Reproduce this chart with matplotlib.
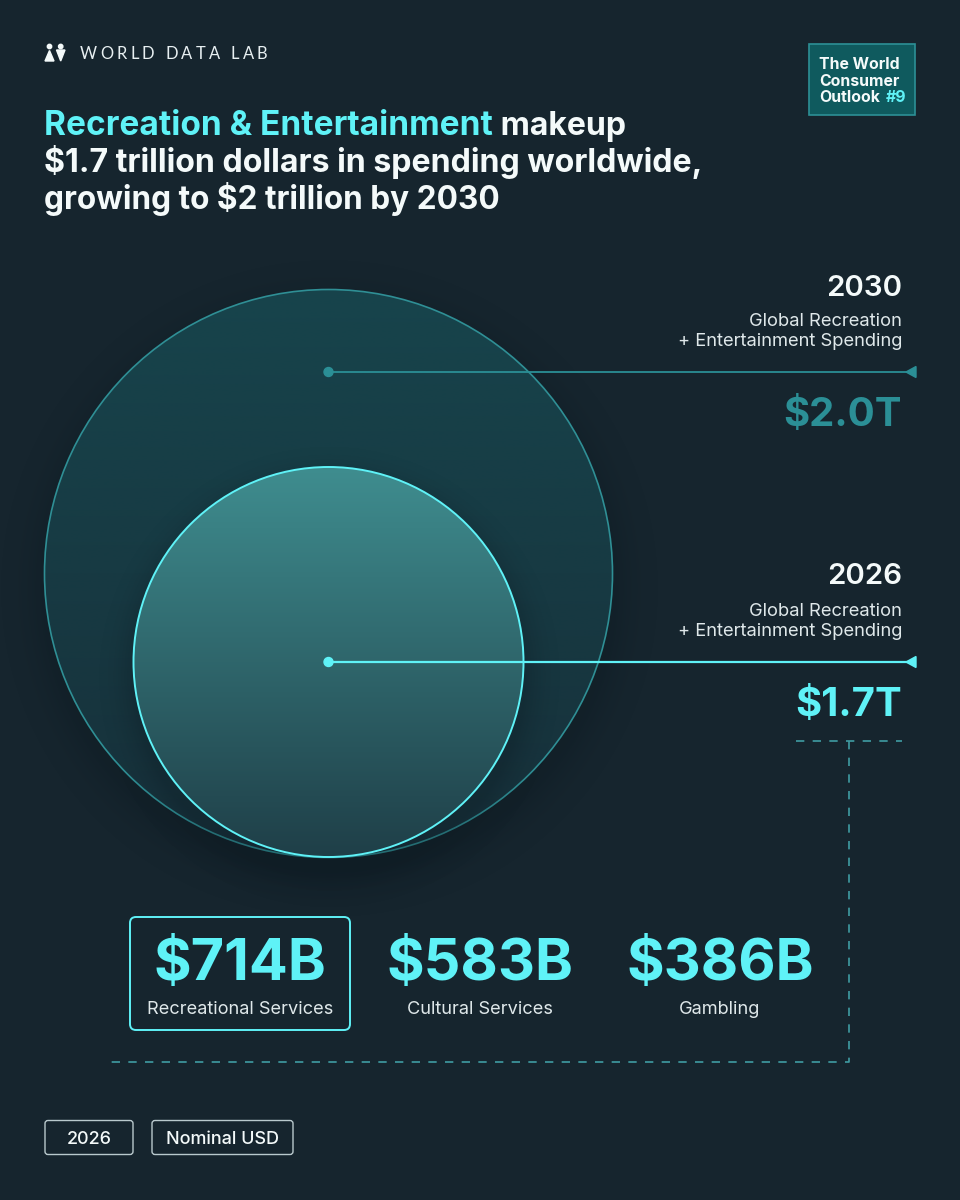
import numpy as np
import matplotlib
matplotlib.use("Agg")
import matplotlib.pyplot as plt
from matplotlib.colors import LinearSegmentedColormap
from matplotlib.patches import Circle, FancyBboxPatch, Polygon, Rectangle

# data
years = ["2030", "2026"]
totals = ["$2.0T", "$1.7T"]
spend_label = ["Global Recreation", "+ Entertainment Spending"]
segment_values = ["$714B", "$583B", "$386B"]
segment_names = ["Recreational Services", "Cultural Services", "Gambling"]
title_lines = [
    [("Recreation & Entertainment", "cyan", 33.4), (" makeup", "white", 32)],
    [("$1.7 trillion dollars in spending worldwide,", "white", 32.1)],
    [("growing to $2 trillion by 2030", "white", 31.5)],
]
footer_tags = ["2026", "Nominal USD"]

BG = "#16252e"
CYAN = "#5ff2f7"
TEAL = "#2b8f96"
WHITE = "#f4fafa"
FONT = "Inter"

fig = plt.figure(figsize=(9.6, 12), dpi=100, facecolor=BG)
ax = fig.add_axes([0, 0, 1, 1])
ax.set_facecolor(BG)
ax.axis("off")

W, H = 960, 1200


def px(size):
    # font size in picture pixels
    return size * 0.72


def shadow(cx, cy, r, spread, strength, z):
    yy, xx = np.mgrid[0:H:2, 0:W:2]
    d = np.hypot(xx - cx, yy - (cy + 14)) - r
    a = np.clip(1 - d / spread, 0, 1) ** 2 * strength
    img = np.zeros(a.shape + (4,))
    img[..., :3] = (0.04, 0.09, 0.12)
    img[..., 3] = a
    ax.imshow(img, extent=[0, W, H, 0], zorder=z, aspect="auto", interpolation="bilinear")


def grad_circle(cx, cy, r, top, bottom, edge, lw, z):
    cmap = LinearSegmentedColormap.from_list("c", [top, bottom])
    g = np.linspace(0, 1, 256).reshape(-1, 1)
    im = ax.imshow(g, cmap=cmap, extent=[cx - r, cx + r, cy + r, cy - r], zorder=z,
                   aspect="auto", origin="upper")
    clip = Circle((cx, cy), r, transform=ax.transData)
    im.set_clip_path(clip)
    ax.add_patch(Circle((cx, cy), r, fill=False, ec=edge, lw=lw, zorder=z + 0.1))


# circles
shadow(328.5, 573.5, 284, 50, 0.32, 1)
grad_circle(328.5, 573.5, 284, "#17444c", "#17303a", "#2f8f95", 1.2, 2)
shadow(328.5, 662, 195, 40, 0.28, 3)
grad_circle(328.5, 662, 195, "#3f8d8f", "#1f3f48", CYAN, 1.4, 4)

# leader lines
leader_y = [372, 662]
leader_col = [TEAL, CYAN]
for y, c in zip(leader_y, leader_col):
    ax.plot([328.5, 912], [y, y], color=c, lw=1.3 if c == TEAL else 1.6, zorder=6, solid_capstyle="butt")
    ax.add_patch(Circle((328.5, y), 4.5, color=c, zorder=7))
    ax.add_patch(Polygon([[906, y], [916, y - 5.5], [916, y + 5.5]], color=c, zorder=7))

# right hand labels
for year, total, top, c in zip(years, totals, [288, 577], leader_col):
    ax.text(902, top, year, color=WHITE, fontsize=px(29.5), fontweight="semibold", family=FONT,
            ha="right", va="center", zorder=8)
    ax.text(902, top + 34, spend_label[0], color="#dfe8ea", fontsize=px(18.4), family=FONT,
            ha="right", va="center", zorder=8)
    ax.text(902, top + 54, spend_label[1], color="#dfe8ea", fontsize=px(18.4), family=FONT,
            ha="right", va="center", zorder=8)
    ax.text(902, top + 128, total, color=c, fontsize=px(40), fontweight="bold", family=FONT,
            ha="right", va="center", zorder=8)

# dashed bracket
dash = dict(color="#3f9da3", lw=1.2, dashes=(5, 5), zorder=5)
ax.plot([796, 902], [741, 741], **dash)
ax.plot([849, 849, 111], [741, 1062, 1062], **dash)

# segments
seg_x = [240, 480, 720]
for x, v, n in zip(seg_x, segment_values, segment_names):
    ax.text(x, 965, v, color=CYAN, fontsize=px(57.5), fontweight="bold", family=FONT,
            ha="center", va="center", zorder=8)
    ax.text(x, 1009, n, color="#dfe8ea", fontsize=px(18.2), family=FONT,
            ha="center", va="center", zorder=8)
ax.add_patch(FancyBboxPatch((130, 917), 220, 113, boxstyle="round,pad=0,rounding_size=6",
                            fc="none", ec=CYAN, lw=1.4, zorder=8))

# footer tags
tag_box = [(45, 88), (152, 141)]
for (x, w), t in zip(tag_box, footer_tags):
    ax.add_patch(FancyBboxPatch((x, 1120.5), w, 34, boxstyle="round,pad=0,rounding_size=3",
                                fc="none", ec="#b9c9cd", lw=1.0, zorder=8))
    ax.text(x + w / 2, 1139, t, color=WHITE, fontsize=px(18), fontweight="medium", family=FONT,
            ha="center", va="center", zorder=8)

# outlook badge
ax.add_patch(Rectangle((809, 44), 106, 71, fc="#0f5a5e", ec="#2c9096", lw=1.2, zorder=8))
badge_y = [64.5, 81, 97]
for y, t in zip(badge_y, ["The World", "Consumer", "Outlook"]):
    ax.text(819, y, t, color=WHITE, fontsize=px(15.8), fontweight="bold", family=FONT,
            ha="left", va="center", zorder=9)
ax.text(906, 97, "#9", color=CYAN, fontsize=px(15.8), fontweight="bold", family=FONT,
        ha="right", va="center", zorder=9)

# logo
ax.add_patch(Polygon([[45, 61], [54, 61], [49.5, 50.5]], color=WHITE, zorder=9))
ax.add_patch(Circle((49.5, 46.5), 2.2, color=WHITE, zorder=9))
ax.add_patch(Polygon([[56.5, 50], [65, 50], [60.7, 61]], color=WHITE, zorder=9))
ax.add_patch(Circle((60.7, 46.5), 2.2, color=WHITE, zorder=9))

ax.set_xlim(0, W)
ax.set_ylim(H, 0)

renderer = fig.canvas.get_renderer()

# brand name, letter spaced
x = 80
for ch in "WORLD DATA LAB":
    if ch == " ":
        x += 8
        continue
    t = ax.text(x, 54, ch, color="#e8f0f2", fontsize=px(16.5), family="Lato", ha="left", va="center", zorder=9)
    x += t.get_window_extent(renderer).width + 3.2

# title, pieces side by side
title_y = [135, 172, 209]
for y, pieces in zip(title_y, title_lines):
    x = 44
    for s, c, size in pieces:
        t = ax.text(x, y, s, color=CYAN if c == "cyan" else WHITE, fontsize=px(size), fontweight="bold",
                    family=FONT, ha="left", va="baseline", zorder=9)
        extra = 9 if s.startswith(" ") else 0
        x += t.get_window_extent(renderer).width + extra

fig.savefig("out.png", dpi=100, facecolor=BG)
